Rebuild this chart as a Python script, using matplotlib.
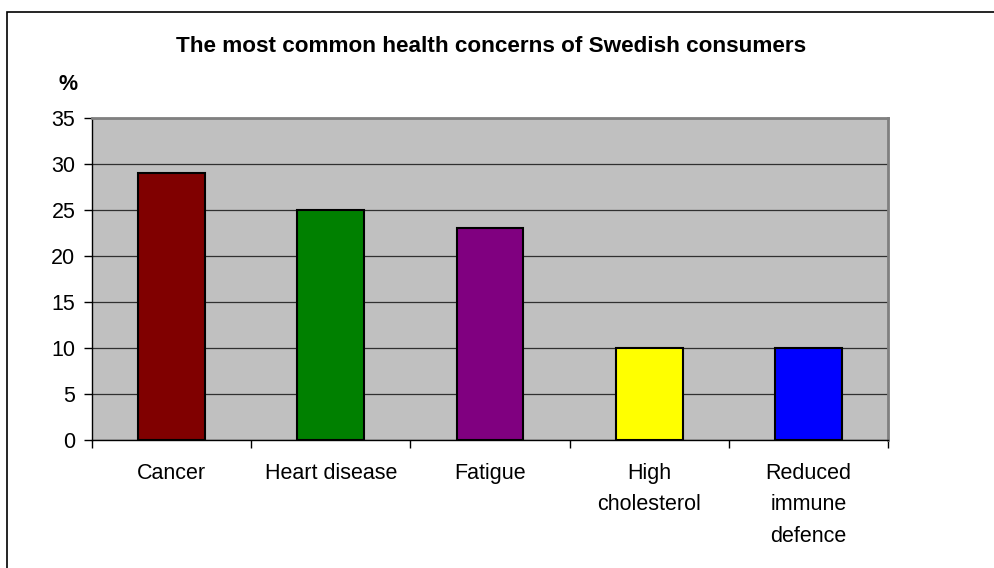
import matplotlib
matplotlib.use('Agg')
import matplotlib.pyplot as plt
from matplotlib.patches import Rectangle

# データ
categories = ['Cancer', 'Heart disease', 'Fatigue', 'High\ncholesterol', 'Reduced\nimmune\ndefence']
values = [29, 25, 23, 10, 10]
bar_colors = ['#800000', '#008000', '#800080', '#FFFF00', '#0000FF']
y_ticks = [0, 5, 10, 15, 20, 25, 30, 35]

plt.rcParams['font.family'] = ['Liberation Sans', 'DejaVu Sans']

fig = plt.figure(figsize=(9.95, 5.68), dpi=100)
# 外枠（右と下は画像外へ）
fig.patches.append(Rectangle((7 / 995, -0.1), 1.2, 1 - 12 / 568 + 0.1,
                             transform=fig.transFigure, fill=False,
                             edgecolor='black', linewidth=1.2))

ax = fig.add_axes([92 / 995, 1 - 440 / 568, 796 / 995, 322 / 568])
ax.set_facecolor('#C0C0C0')

x = list(range(len(categories)))
ax.bar(x, values, width=0.42, color=bar_colors, edgecolor='black', linewidth=1.5, zorder=3)

ax.set_xlim(-0.5, len(categories) - 0.5)
ax.set_ylim(0, 35)
ax.set_yticks(y_ticks)
ax.yaxis.grid(True, color='#303030', linewidth=0.9, zorder=1)

# x軸の目盛はカテゴリの境界に
ax.set_xticks([i - 0.5 for i in range(len(categories) + 1)])
ax.set_xticklabels([])
ax.tick_params(axis='x', direction='out', length=6, width=1, color='black')
ax.tick_params(axis='y', direction='out', length=6, width=1, color='black', labelsize=15.5, pad=6)
for i, cat in enumerate(categories):
    ax.text(i, -2.5, cat, ha='center', va='top', fontsize=15.5, linespacing=1.65,
            transform=ax.transData)

for side in ['top', 'right']:
    ax.spines[side].set_color('#808080')
    ax.spines[side].set_linewidth(2)
for side in ['left', 'bottom']:
    ax.spines[side].set_color('black')
    ax.spines[side].set_linewidth(1)

fig.text(491 / 995, 1 - 46 / 568, 'The most common health concerns of Swedish consumers',
         ha='center', va='center', fontsize=16.2, fontweight='bold')
fig.text(68 / 995, 1 - 84 / 568, '%', ha='center', va='center', fontsize=15.5, fontweight='bold')

fig.savefig('out.png', dpi=100)
